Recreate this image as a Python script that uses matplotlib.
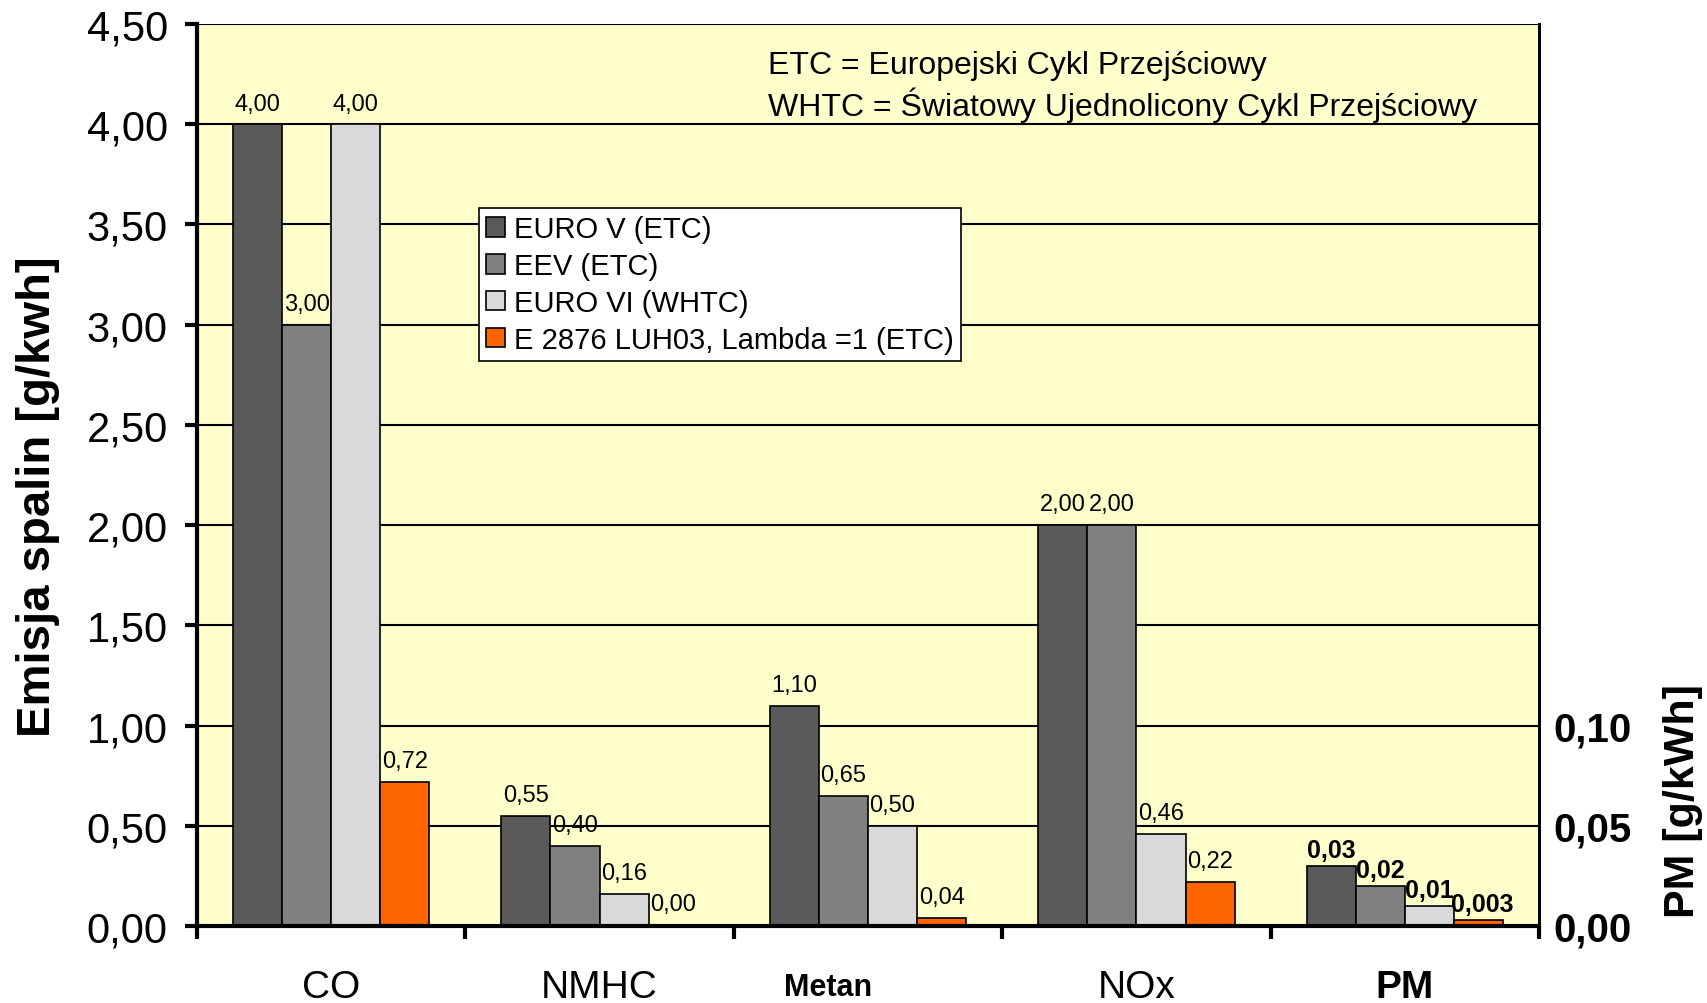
import matplotlib
matplotlib.use("Agg")
import matplotlib.pyplot as plt
import numpy as np
from matplotlib.patches import Patch

plt.rcParams['font.family'] = ['Liberation Sans', 'DejaVu Sans']

categories = ["CO", "NMHC", "Metan", "NOx", "PM"]
series_names = ["EURO V (ETC)", "EEV (ETC)", "EURO VI (WHTC)", "E 2876 LUH03, Lambda =1 (ETC)"]
euro5 = [4.00, 0.55, 1.10, 2.00, 0.03]
eev = [3.00, 0.40, 0.65, 2.00, 0.02]
euro6 = [4.00, 0.16, 0.50, 0.46, 0.01]
e2876 = [0.72, 0.004, 0.04, 0.22, 0.003]
pm_scale = 10.0  # PM plotted on secondary axis (0.10 g/kWh == 1.00 on left)
left_ticks = [0, 0.5, 1.0, 1.5, 2.0, 2.5, 3.0, 3.5, 4.0, 4.5]
right_ticks = [0.0, 0.05, 0.10]
colors = ["#5A5A5A", "#808080", "#D9D9D9", "#FF6600"]
series = [euro5, eev, euro6, e2876]

fig = plt.figure(figsize=(17.08, 10.04), dpi=100)
ax = fig.add_axes([197/1708, 1-927/1004, (1539-197)/1708, (927-25)/1004])
ax.set_facecolor("#FFFFCC")
ax.set_xlim(-0.5, 4.5)
ax.set_ylim(0, 4.5)

for y in left_ticks[1:]:
    ax.axhline(y, color='black', lw=1.5, zorder=1)

w = 0.183
x = np.arange(len(categories))
for i, (vals, c) in enumerate(zip(series, colors)):
    offs = (i - 1.5) * w
    for j, v in enumerate(vals):
        is_pm = categories[j] == "PM"
        h = v * pm_scale if is_pm else v
        ax.bar(x[j] + offs, h, width=w, color=c, edgecolor='black', lw=1.2, zorder=2)
        if is_pm:
            txt = ("%.3f" % v if v < 0.005 else "%.2f" % v).replace('.', ',')
            ax.annotate(txt, (x[j] + offs, h), xytext=(3 if v < 0.005 else 0, 3),
                        textcoords='offset points',
                        ha='center', va='bottom', fontsize=18, fontweight='bold', zorder=3)
        else:
            txt = ("%.2f" % v).replace('.', ',')
            ax.annotate(txt, (x[j] + offs, h), xytext=(0, 7), textcoords='offset points',
                        ha='center', va='bottom', fontsize=17, zorder=3)

ax.spines['top'].set_visible(False)
ax.spines['left'].set_linewidth(3)
ax.spines['bottom'].set_linewidth(3)
ax.spines['right'].set_linewidth(2)

ax.set_yticks(left_ticks)
ax.set_yticklabels([("%.2f" % t).replace('.', ',') for t in left_ticks], fontsize=30)
ax.tick_params(axis='y', direction='out', length=9, width=3, pad=12)

ax.set_xticks(x)
ax.set_xticklabels([c if c != "Metan" else "" for c in categories], fontsize=28)
ax.tick_params(axis='x', which='major', length=0, pad=31)
ax.set_xticks(np.arange(-0.5, 5.0, 1.0), minor=True)
ax.tick_params(axis='x', which='minor', direction='out', length=9, width=3)
for lbl in ax.get_xticklabels():
    if lbl.get_text() == "PM":
        lbl.set_fontweight('bold')
ax.annotate(categories[2], xy=(x[2], 0), xycoords=('data', 'axes fraction'),
            xytext=(-29, -44), textcoords='offset points', ha='center', va='center',
            fontsize=22, fontweight='bold', annotation_clip=False)

fig.text(38/1708, 1-497/1004, "Emisja spalin [g/kwh]", fontsize=34, fontweight='bold',
         rotation=90, ha='center', va='center')

ax2 = ax.twinx()
ax2.set_ylim(0, 4.5 / pm_scale)
ax2.set_yticks(right_ticks)
ax2.set_yticklabels([("%.2f" % t).replace('.', ',') for t in right_ticks], fontsize=29, fontweight='bold')
ax2.tick_params(axis='y', length=0, pad=10)
for s in ['top', 'left', 'bottom']:
    ax2.spines[s].set_visible(False)
ax2.spines['right'].set_linewidth(2)
fig.text(1683/1708, 1-801/1004, "PM [g/kWh]", fontsize=31, fontweight='bold',
         rotation=90, ha='center', va='center')

fig.text(768/1708, 1-66/1004, "ETC = Europejski Cykl Przejściowy", fontsize=23, va='center', ha='left')
fig.text(768/1708, 1-105/1004, "WHTC = Światowy Ujednolicony Cykl Przejściowy", fontsize=23, va='center', ha='left')

handles = [Patch(facecolor=c, edgecolor='black', lw=1.2) for c in colors]
leg = ax.legend(handles, series_names, loc='upper left',
                bbox_to_anchor=((479-197)/1342, (927-209)/902),
                fontsize=21, frameon=True, fancybox=False, framealpha=1,
                edgecolor='black', handlelength=0.65, handleheight=0.65,
                handletextpad=0.3, labelspacing=0.3, borderpad=0.25, borderaxespad=0)
leg.get_frame().set_linewidth(1.2)
leg.set_zorder(5)

fig.savefig("out.png", dpi=100)
